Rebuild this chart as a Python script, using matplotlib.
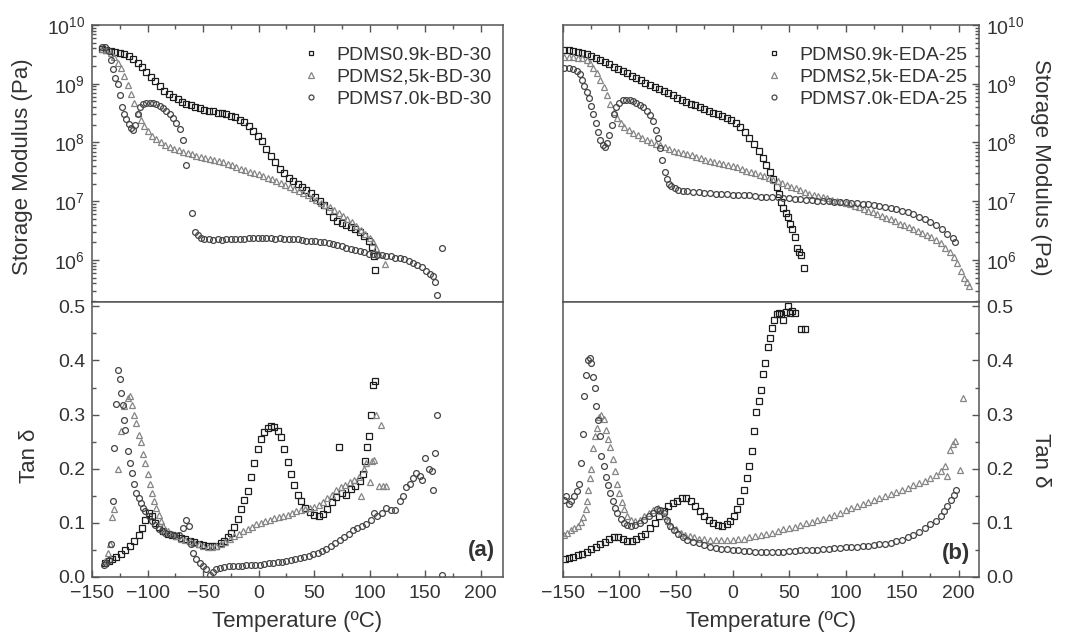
import numpy as np
import matplotlib
matplotlib.use('Agg')
import matplotlib.pyplot as plt
from matplotlib.ticker import (LogLocator, MultipleLocator, NullFormatter,
                               LogFormatterMathtext, FormatStrFormatter)

plt.rcParams['font.family'] = ['Liberation Sans', 'DejaVu Sans']
plt.rcParams['mathtext.fontset'] = 'custom'
plt.rcParams['mathtext.rm'] = 'Liberation Sans'
plt.rcParams['mathtext.it'] = 'Liberation Sans:italic'

# ---------------- panel (a): BD-30 series ----------------
bd_labels = ['PDMS0.9k-BD-30', 'PDMS2,5k-BD-30', 'PDMS7.0k-BD-30']

# storage modulus (Pa)
bd_sq_t = [-141, -137, -133, -129, -125, -121, -117, -113, -109, -105, -101, -97, -93, -89, -85, -81,
           -77, -73, -69, -65, -61, -57, -53, -49, -45, -41, -37, -33, -29, -25, -21, -17, -13, -9, -5, -1,
           3, 7, 11, 15, 19, 23, 27, 31, 35, 39, 43, 47, 51, 55, 59, 63, 67, 71, 75, 79, 83, 87, 91, 95, 99,
           102, 104, 105]
bd_sq_e = [3.89e9, 3.72e9, 3.55e9, 3.47e9, 3.31e9, 3.16e9, 2.95e9, 2.63e9, 2.24e9, 1.91e9, 1.58e9, 1.32e9,
           1.10e9, 9.1e8, 7.6e8, 6.6e8, 5.9e8, 5.4e8, 4.9e8, 4.6e8, 4.3e8, 4.0e8, 3.8e8, 3.6e8, 3.5e8, 3.4e8,
           3.2e8, 3.2e8, 3.0e8, 2.8e8, 2.7e8, 2.45e8, 2.2e8, 1.9e8, 1.6e8, 1.3e8,
           1.05e8, 7.9e7, 6.0e7, 4.6e7, 3.6e7, 3.0e7, 2.5e7, 2.2e7, 1.95e7, 1.74e7, 1.55e7, 1.38e7, 1.2e7,
           1.02e7, 8.5e6, 6.9e6, 5.4e6, 4.6e6, 4.2e6, 3.9e6, 3.6e6, 3.4e6, 3.0e6, 2.6e6, 2.1e6,
           1.66e6, 1.15e6, 6.8e5]

bd_tri_t = [-141, -137, -133, -130, -127, -124, -121, -118, -115, -112, -109, -106, -103, -100,
            -96, -92, -88, -84, -80, -76, -72, -68, -64, -60, -56, -52, -48, -44, -40, -36, -32, -28, -24,
            -20, -16, -12, -8, -4, 0, 4, 8, 12, 16, 20, 24, 28, 32, 36, 40, 44, 48, 52, 56, 60, 64, 68, 72,
            76, 80, 84, 88, 92, 96, 100, 103, 106, 108, 114]
bd_tri_e = [3.98e9, 3.80e9, 3.31e9, 2.82e9, 2.29e9, 1.82e9, 1.35e9, 9.5e8, 6.8e8, 4.7e8, 3.2e8, 2.4e8,
            1.9e8, 1.6e8,
            1.3e8, 1.15e8, 1.0e8, 9.1e7, 8.5e7, 7.9e7, 7.4e7, 6.9e7, 6.6e7, 6.3e7, 6.0e7, 5.75e7, 5.5e7,
            5.25e7, 5.0e7, 4.8e7, 4.6e7, 4.3e7, 4.1e7, 3.8e7, 3.6e7, 3.4e7, 3.2e7, 3.0e7, 2.9e7, 2.7e7,
            2.5e7, 2.35e7, 2.2e7, 2.05e7, 1.9e7, 1.74e7, 1.62e7, 1.48e7, 1.38e7, 1.26e7, 1.15e7, 1.05e7,
            9.5e6, 8.7e6, 7.9e6, 7.1e6, 6.3e6, 5.6e6, 5.0e6, 4.4e6, 3.8e6, 3.3e6, 2.8e6, 2.4e6,
            2.0e6, 1.6e6, 1.26e6, 8.7e5]

bd_cir_t = [-141, -138, -135, -133, -131, -129, -127, -125, -123, -121, -119, -117, -115, -113, -111,
            -109, -107, -104, -101, -98, -95, -92, -89, -86, -83, -80, -77, -74, -71, -68, -65, -60, -57,
            -55, -52,
            -49, -45, -41, -37, -33, -29, -25, -21, -17, -13, -9, -5, -1, 3, 7, 11, 15, 19, 23, 27, 31, 35,
            39, 43, 47, 51, 55, 59, 63, 67, 71, 75, 79, 83, 87, 91, 95, 99, 103, 107, 111, 115, 119, 123,
            127, 131, 135, 139, 143, 147, 151,
            154, 157, 159, 161, 165]
bd_cir_e = [4.27e9, 4.17e9, 3.55e9, 2.51e9, 1.78e9, 1.26e9, 1.0e9, 6.31e8, 3.98e8, 3.02e8, 2.51e8, 2.09e8,
            1.78e8, 1.66e8, 2.0e8, 3.02e8, 3.98e8, 4.57e8, 4.79e8, 4.79e8, 4.68e8, 4.47e8, 4.17e8, 3.80e8,
            3.47e8, 3.02e8, 2.57e8, 2.14e8, 1.70e8, 1.12e8, 4.17e7, 6.31e6, 3.02e6, 2.63e6, 2.40e6,
            2.29e6, 2.24e6, 2.19e6, 2.24e6, 2.19e6, 2.24e6, 2.24e6, 2.29e6, 2.24e6, 2.29e6, 2.34e6, 2.40e6,
            2.34e6, 2.34e6, 2.40e6, 2.34e6, 2.29e6, 2.34e6, 2.29e6, 2.29e6, 2.24e6, 2.24e6, 2.19e6, 2.14e6,
            2.14e6, 2.09e6, 2.04e6, 2.00e6, 1.95e6, 1.86e6, 1.78e6, 1.70e6, 1.62e6, 1.55e6, 1.48e6, 1.41e6,
            1.35e6, 1.29e6, 1.26e6, 1.23e6, 1.20e6, 1.17e6, 1.15e6, 1.10e6, 1.07e6, 1.02e6, 9.55e5, 8.91e5,
            8.32e5, 7.59e5, 6.61e5,
            5.89e5, 5.25e5, 4.17e5, 2.51e5, 1.58e6]

# tan delta
bd_sq_tt = [-138, -135, -132, -128, -124, -120, -116, -112, -108, -105, -102, -99, -96, -93, -90, -86,
            -82, -78, -74, -70, -66, -62, -58, -54, -50, -46, -42, -38, -34, -31, -28, -25, -22, -19, -16,
            -13, -10, -7, -4, -1, 2, 5, 8, 11, 14, 17, 20, 23, 26, 29, 32, 35, 38, 42, 46, 50, 54, 58, 62,
            66, 70, 72, 75, 79, 83, 87, 91, 94, 96, 98, 99, 101, 103, 105]
bd_sq_tan = [0.025, 0.030, 0.033, 0.036, 0.042, 0.050, 0.057, 0.066, 0.077, 0.090, 0.105, 0.118, 0.112,
             0.100, 0.092, 0.085, 0.080, 0.077, 0.075, 0.072, 0.070, 0.067, 0.064, 0.061, 0.059, 0.057,
             0.057, 0.058, 0.062, 0.066, 0.073, 0.082, 0.093, 0.108, 0.125, 0.142, 0.158, 0.185, 0.210,
             0.236, 0.255, 0.268, 0.276, 0.278, 0.277, 0.270, 0.258, 0.237, 0.212, 0.190, 0.170, 0.152,
             0.140, 0.128, 0.120, 0.115, 0.112, 0.116, 0.126, 0.138, 0.148, 0.241, 0.155, 0.152, 0.162,
             0.168, 0.178, 0.190, 0.215, 0.240, 0.260, 0.300, 0.355, 0.362]

bd_tri_tt = [-138, -136, -134, -132, -130, -127, -124, -121, -118, -116, -114, -112, -110, -108, -106,
             -104, -102, -100, -98, -96, -94, -92, -90, -88, -86, -82, -78, -74, -70, -66, -62, -58, -54,
             -50, -46, -42, -38, -34, -30, -26, -22, -18, -14, -10, -6, -2, 2, 6, 10, 14, 18, 22, 26, 30,
             34, 38, 42, 46, 50, 54, 58, 62, 66, 70, 74, 78, 82, 86, 90, 92, 95, 97, 100, 102, 104, 106,
             108, 110, 112, 115]
bd_tri_tan = [0.030, 0.045, 0.060, 0.110, 0.125, 0.200, 0.270, 0.315, 0.330, 0.335, 0.318, 0.300, 0.285,
              0.262, 0.250, 0.228, 0.210, 0.190, 0.172, 0.155, 0.140, 0.128, 0.115, 0.104, 0.095, 0.085,
              0.079, 0.075, 0.071, 0.068, 0.066, 0.063, 0.060, 0.057, 0.055, 0.055, 0.057, 0.060, 0.065,
              0.070, 0.075, 0.080, 0.085, 0.089, 0.093, 0.097, 0.100, 0.103, 0.106, 0.109, 0.111, 0.113,
              0.115, 0.118, 0.121, 0.123, 0.125, 0.127, 0.130, 0.133, 0.138, 0.145, 0.152, 0.160, 0.166,
              0.170, 0.175, 0.180, 0.185, 0.150, 0.200, 0.210, 0.175, 0.215, 0.217, 0.300, 0.168, 0.280,
              0.168, 0.168]

bd_cir_tt = [-139, -137, -135, -133, -131, -130, -128, -127, -125, -124, -122, -121, -120, -118, -116,
             -114, -112, -110, -108, -106, -104, -102, -99, -96, -93, -90, -87, -84, -80, -76, -72, -68,
             -65, -63, -61, -59, -56, -53, -50, -47, -44, -41, -38, -35, -31, -27, -23, -19, -15, -11, -7,
             -3, 1, 5, 9, 13, 17, 21, 25, 29, 33, 37, 41, 45, 49, 53, 57, 61, 65, 69, 73, 77, 81, 85, 89,
             93, 97, 101, 104, 107, 111, 115, 119, 123, 127, 130, 133, 136, 139, 142, 145, 147, 150, 153,
             156, 157, 159, 161, 165]
bd_cir_tan = [0.022, 0.026, 0.032, 0.060, 0.140, 0.238, 0.320, 0.383, 0.366, 0.340, 0.318, 0.290, 0.272,
              0.232, 0.211, 0.192, 0.171, 0.155, 0.145, 0.137, 0.128, 0.121, 0.113, 0.104, 0.096, 0.089,
              0.085, 0.081, 0.079, 0.077, 0.078, 0.090, 0.106, 0.095, 0.060, 0.044, 0.034, 0.026, 0.020,
              0.015, 0.004, 0.010, 0.014, 0.016, 0.018, 0.020, 0.021, 0.021, 0.021, 0.022, 0.022, 0.023,
              0.023, 0.024, 0.025, 0.026, 0.027, 0.028, 0.029, 0.031, 0.033, 0.035, 0.037, 0.039, 0.042,
              0.045, 0.048, 0.052, 0.057, 0.062, 0.068, 0.074, 0.080, 0.086, 0.090, 0.094, 0.098, 0.106,
              0.118, 0.112, 0.118, 0.127, 0.124, 0.124, 0.140, 0.150, 0.166, 0.172, 0.182, 0.192, 0.186,
              0.180, 0.220, 0.200, 0.195, 0.161, 0.229, 0.300, 0.003]

# ---------------- panel (b): EDA-25 series ----------------
eda_labels = ['PDMS0.9k-EDA-25', 'PDMS2,5k-EDA-25', 'PDMS7.0k-EDA-25']

eda_sq_t = [-149, -145, -141, -137, -133, -129, -125, -121, -117, -113, -109, -105, -101, -97, -93, -89,
            -85, -81, -77, -73, -69, -65, -61, -57, -53, -49, -45, -41, -37, -33, -29, -25, -21, -17, -13,
            -9, -5, -1, 3, 7, 11, 15, 19, 23, 27, 30, 33, 36, 39, 41, 43, 45, 47, 49, 51, 53, 55, 57, 59,
            61, 63]
eda_sq_e = [3.72e9, 3.72e9, 3.63e9, 3.47e9, 3.31e9, 3.16e9, 2.95e9, 2.75e9, 2.57e9, 2.34e9, 2.14e9,
            1.95e9, 1.78e9, 1.66e9, 1.51e9, 1.38e9, 1.26e9, 1.15e9, 1.05e9, 9.55e8, 8.91e8, 8.13e8, 7.59e8,
            6.92e8, 6.31e8, 5.75e8, 5.25e8, 4.90e8, 4.57e8, 4.27e8, 3.98e8, 3.72e8, 3.47e8, 3.24e8, 3.02e8,
            2.82e8, 2.57e8, 2.40e8, 2.14e8, 1.82e8, 1.48e8, 1.17e8, 9.33e7, 7.24e7, 5.37e7, 4.17e7, 3.16e7,
            2.40e7, 1.78e7, 1.32e7, 9.55e6, 7.59e6, 6.31e6, 5.37e6, 4.17e6, 3.31e6, 2.51e6, 1.58e6, 1.35e6,
            1.20e6, 7.24e5]

eda_tri_t = [-149, -145, -141, -137, -133, -129, -126, -123, -120, -117, -114, -111, -108, -105, -102,
             -99, -96, -92, -88, -84, -80, -76, -72, -68, -64, -60, -56, -52, -48, -44, -40, -36, -32, -28,
             -24, -20, -16, -12, -8, -4, 0, 4, 8, 12, 16, 20, 24, 28, 32, 36, 40, 44, 48, 52, 56, 60, 64,
             68, 72, 76, 80, 84, 88, 92, 96, 100, 104, 108, 112, 116, 120, 124, 128, 132, 136, 140, 144,
             148, 152, 156, 160, 164, 168, 172, 176, 180, 184, 188, 192, 196, 199, 202, 205, 207, 209]
eda_tri_e = [2.88e9, 2.88e9, 2.82e9, 2.75e9, 2.69e9, 2.51e9, 2.24e9, 1.86e9, 1.55e9, 1.17e9, 8.71e8,
             6.31e8, 4.47e8, 3.31e8, 2.63e8, 2.14e8,
             1.86e8, 1.62e8, 1.45e8, 1.32e8, 1.20e8, 1.10e8, 1.02e8, 9.55e7, 8.91e7, 8.32e7, 7.76e7,
             7.24e7, 6.92e7, 6.61e7, 6.31e7, 6.03e7, 5.62e7, 5.37e7, 5.01e7, 4.79e7, 4.57e7, 4.47e7,
             4.27e7, 4.07e7, 3.98e7, 3.80e7, 3.55e7, 3.31e7, 3.16e7, 3.02e7, 2.82e7, 2.69e7, 2.51e7,
             2.34e7, 2.19e7, 2.04e7, 1.91e7, 1.78e7, 1.66e7, 1.55e7, 1.45e7, 1.35e7, 1.29e7, 1.23e7,
             1.17e7, 1.12e7, 1.07e7, 1.02e7, 9.77e6, 9.33e6, 8.91e6, 8.32e6, 7.94e6, 7.41e6, 6.92e6,
             6.46e6, 6.03e6, 5.62e6, 5.25e6, 4.90e6, 4.57e6, 4.17e6, 3.89e6, 3.63e6, 3.39e6, 3.16e6,
             2.88e6, 2.69e6, 2.45e6, 2.19e6, 1.91e6,
             1.62e6, 1.35e6, 1.12e6, 8.91e5, 6.61e5, 5.01e5, 4.17e5, 3.63e5]

eda_cir_t = [-149, -145, -141, -138, -135, -133, -131, -129, -127, -125, -123, -121, -119, -117, -115,
             -113, -111, -109, -107, -105, -103, -100, -97, -94, -91, -88, -85, -82, -79, -76, -73, -70,
             -68, -66, -64, -62, -60, -58, -56, -54, -51, -48, -44, -40,
             -35, -30, -25, -20, -15, -10, -5, 0, 5, 10, 15, 20, 25, 30, 35, 40, 45, 50, 55, 60, 65, 70,
             75, 80, 85, 90, 95, 100, 105, 110, 115, 120, 125, 130, 135, 140, 145, 150, 155, 160, 165,
             170, 175, 180, 185, 190, 195, 197]
eda_cir_e = [1.86e9, 1.86e9, 1.78e9, 1.66e9, 1.45e9, 1.17e9, 9.12e8, 7.24e8, 5.62e8, 4.17e8, 3.02e8,
             2.14e8, 1.48e8, 1.10e8, 8.91e7, 8.51e7, 9.77e7, 1.35e8, 2.0e8, 3.02e8, 3.98e8, 4.79e8, 5.25e8,
             5.37e8, 5.25e8, 5.01e8, 4.68e8, 4.37e8, 3.98e8, 3.47e8, 2.95e8, 2.34e8, 1.66e8, 1.20e8,
             7.94e7, 5.01e7, 3.16e7, 2.40e7, 2.0e7, 1.82e7, 1.66e7, 1.58e7, 1.51e7, 1.48e7,
             1.45e7, 1.41e7, 1.38e7, 1.38e7, 1.35e7, 1.32e7, 1.32e7, 1.29e7, 1.29e7, 1.26e7, 1.26e7,
             1.23e7, 1.20e7, 1.20e7, 1.17e7, 1.17e7, 1.15e7, 1.12e7, 1.10e7, 1.10e7, 1.07e7, 1.05e7,
             1.02e7, 1.02e7, 1.0e7, 9.77e6, 9.77e6, 9.55e6, 9.33e6, 9.33e6, 9.12e6, 8.91e6, 8.51e6,
             8.32e6, 7.94e6, 7.59e6, 7.24e6, 6.92e6, 6.46e6, 6.03e6, 5.50e6, 5.01e6, 4.47e6, 3.89e6,
             3.39e6, 2.82e6, 2.34e6, 2.04e6]

eda_sq_tt = [-148, -145, -141, -137, -133, -129, -125, -121, -117, -113, -109, -105, -101, -97, -93, -89,
             -85, -81, -77, -73, -69, -65, -61, -57, -53, -49, -45, -41, -37, -33, -29, -25, -21, -17, -13,
             -9, -5, -2, 1, 4, 7, 10, 13, 15, 17, 19, 21, 23, 25, 27, 29, 31, 33, 35, 37, 39, 41, 43, 45,
             47, 49, 51, 53, 55, 61, 64]
eda_sq_tan = [0.034, 0.035, 0.037, 0.040, 0.043, 0.047, 0.052, 0.056, 0.060, 0.065, 0.070, 0.074, 0.074,
              0.070, 0.066, 0.066, 0.070, 0.075, 0.080, 0.090, 0.100, 0.112, 0.122, 0.131, 0.137, 0.141,
              0.145, 0.145, 0.140, 0.132, 0.122, 0.113, 0.106, 0.100, 0.096, 0.095, 0.098, 0.103, 0.112,
              0.125, 0.140, 0.160, 0.183, 0.205, 0.232, 0.270, 0.305, 0.325, 0.345, 0.375, 0.395, 0.425,
              0.442, 0.460, 0.475, 0.485, 0.488, 0.485, 0.475, 0.490, 0.500, 0.488, 0.492, 0.488, 0.458,
              0.458]

eda_tri_tt = [-149, -146, -143, -140, -137, -134, -132, -130, -129, -128, -126, -125, -123.5, -122, -120,
              -118, -116, -114, -112, -110, -108, -106, -104, -102, -100, -98, -96, -93, -90, -86, -82,
              -78, -74, -70, -66, -63, -60, -57, -54, -50, -46, -42, -38, -34, -30, -25, -20, -15, -10, -5,
              0, 5, 10, 15, 20, 25, 30, 35, 40, 45, 50, 55, 60, 65, 70, 75, 80, 85, 90, 95, 100, 105, 110,
              115, 120, 125, 130, 135, 140, 145, 150, 155, 160, 165, 170, 175, 180, 184, 188, 190, 192, 195,
              197, 201, 204]
eda_tri_tan = [0.078, 0.082, 0.086, 0.090, 0.095, 0.102, 0.110, 0.125, 0.140, 0.160, 0.182, 0.200, 0.238,
               0.260, 0.275, 0.295, 0.300, 0.292, 0.272, 0.255, 0.240, 0.218, 0.195, 0.172, 0.155, 0.138,
               0.125, 0.113, 0.106, 0.104, 0.106, 0.112, 0.118, 0.124, 0.127, 0.122, 0.112, 0.103, 0.095,
               0.088, 0.082, 0.078, 0.075, 0.073, 0.071, 0.070, 0.069, 0.068, 0.068, 0.068, 0.069, 0.070,
               0.071, 0.073, 0.075, 0.077, 0.079, 0.082, 0.085, 0.088, 0.090, 0.093, 0.096, 0.099, 0.102,
               0.105, 0.108, 0.111, 0.115, 0.119, 0.123, 0.127, 0.131, 0.135, 0.139, 0.143, 0.146, 0.150,
               0.154, 0.157, 0.161, 0.165, 0.169, 0.173, 0.177, 0.182, 0.188, 0.195, 0.205, 0.186, 0.235,
               0.245, 0.252, 0.198, 0.330]

eda_cir_tt = [-149, -147, -145, -143, -140, -138, -136, -134, -132.5, -131, -129.5, -128, -126.5, -125,
              -123.5, -122, -120.5, -119, -117.5, -116, -114, -112, -110, -108, -106, -104, -102, -99, -96,
              -93, -90, -86, -82, -78, -74, -70, -67, -64, -61, -58, -55, -52, -48, -44, -40, -35, -30,
              -25, -20, -15, -10, -5, 0, 5, 10, 15, 20, 25, 30, 35, 40, 45, 50, 55, 60, 65, 70, 75, 80,
              85, 90, 95, 100, 105, 110, 115, 120, 125, 130, 135, 140, 145, 150, 155, 160, 165, 170, 175,
              180, 184, 187, 190, 193, 196, 198]
eda_cir_tan = [0.142, 0.149, 0.135, 0.140, 0.150, 0.158, 0.172, 0.211, 0.265, 0.334, 0.374, 0.400, 0.405,
               0.395, 0.370, 0.349, 0.315, 0.290, 0.260, 0.223, 0.205, 0.185, 0.170, 0.155, 0.140, 0.128,
               0.118, 0.107, 0.100, 0.096, 0.094, 0.096, 0.100, 0.106, 0.112, 0.119, 0.125, 0.124, 0.118,
               0.106, 0.095, 0.086, 0.079, 0.073, 0.069, 0.065, 0.062, 0.059, 0.056, 0.054, 0.052, 0.051,
               0.050, 0.049, 0.048, 0.048, 0.047, 0.047, 0.047, 0.047, 0.047, 0.047, 0.048, 0.048, 0.049,
               0.049, 0.050, 0.050, 0.051, 0.052, 0.053, 0.054, 0.055, 0.055, 0.056, 0.057, 0.058, 0.059,
               0.060, 0.061, 0.063, 0.066, 0.069, 0.073, 0.078, 0.084, 0.090, 0.097, 0.104, 0.112, 0.122,
               0.131, 0.143, 0.152, 0.161]

# marker styles: square, triangle, circle
styles = [dict(marker='s', mec='#1c1c1c', ms=3.8),
          dict(marker='^', mec='#858585', ms=4.3),
          dict(marker='o', mec='#454545', ms=4.2)]

text_col = '#333333'
spine_col = '#555555'


def style_axes(ax, top_part, right_side, xmax):
    for s in ax.spines.values():
        s.set_color(spine_col)
        s.set_linewidth(1.1)
    ax.set_xlim(-150, xmax)
    ax.xaxis.set_major_locator(MultipleLocator(50))
    ax.xaxis.set_minor_locator(MultipleLocator(25))
    ax.tick_params(which='both', direction='in', colors=spine_col, labelcolor=text_col,
                   labelsize=14, width=1)
    ax.tick_params(which='major', length=5)
    ax.tick_params(which='minor', length=3)
    if top_part:
        ax.tick_params(axis='x', which='both', top=True, bottom=False, labelbottom=False)
    else:
        ax.tick_params(axis='x', which='both', top=False, bottom=True, pad=6)
    if right_side:
        ax.tick_params(axis='y', which='both', left=False, right=True,
                       labelleft=False, labelright=True, pad=5)
    else:
        ax.tick_params(axis='y', which='both', left=True, right=False, pad=5)


fig = plt.figure(figsize=(10.65, 6.36), dpi=100)
ax_a_top = fig.add_axes([0.0864, 0.5252, 0.3859, 0.4355])
ax_a_bot = fig.add_axes([0.0864, 0.0928, 0.3859, 0.4324])
ax_b_top = fig.add_axes([0.5286, 0.5252, 0.3906, 0.4355])
ax_b_bot = fig.add_axes([0.5286, 0.0928, 0.3906, 0.4324])

panels = [
    (ax_a_top, ax_a_bot, bd_labels, 220, False, '(a)',
     [(bd_sq_t, bd_sq_e), (bd_tri_t, bd_tri_e), (bd_cir_t, bd_cir_e)],
     [(bd_sq_tt, bd_sq_tan), (bd_tri_tt, bd_tri_tan), (bd_cir_tt, bd_cir_tan)]),
    (ax_b_top, ax_b_bot, eda_labels, 218, True, '(b)',
     [(eda_sq_t, eda_sq_e), (eda_tri_t, eda_tri_e), (eda_cir_t, eda_cir_e)],
     [(eda_sq_tt, eda_sq_tan), (eda_tri_tt, eda_tri_tan), (eda_cir_tt, eda_cir_tan)]),
]

for ax_top, ax_bot, labels, xmax, right, tag, storage, tand in panels:
    for (t, e), st, lab in zip(storage, styles, labels):
        ax_top.plot(t, e, ls='none', mfc='none', mew=0.9, label=lab, **st)
    for (t, d), st in zip(tand, styles):
        ax_bot.plot(t, d, ls='none', mfc='none', mew=0.9, **st)

    ax_top.set_yscale('log')
    ax_top.set_ylim(1.93e5, 1e10)
    ax_top.yaxis.set_major_locator(LogLocator(base=10, numticks=12))
    ax_top.yaxis.set_minor_locator(LogLocator(base=10, subs=np.arange(2, 10), numticks=12))
    ax_top.yaxis.set_major_formatter(LogFormatterMathtext())
    ax_top.yaxis.set_minor_formatter(NullFormatter())
    style_axes(ax_top, True, right, xmax)

    ax_bot.set_ylim(0, 0.508)
    ax_bot.yaxis.set_major_locator(MultipleLocator(0.1))
    ax_bot.yaxis.set_minor_locator(MultipleLocator(0.05))
    ax_bot.yaxis.set_major_formatter(FormatStrFormatter('%.1f'))
    style_axes(ax_bot, False, right, xmax)

    ax_bot.set_xlabel('Temperature (ºC)', fontsize=16, color=text_col)
    ax_bot.xaxis.set_label_coords(0.5, -0.125)

    leg = ax_top.legend(loc='upper right', bbox_to_anchor=(1.0, 0.965), frameon=False, fontsize=14,
                        handlelength=0.8, handletextpad=0.9, labelspacing=0.22, borderaxespad=0.2,
                        markerscale=0.85)
    for txt in leg.get_texts():
        txt.set_color(text_col)

    if right:
        ax_top.yaxis.set_label_position('right')
        ax_bot.yaxis.set_label_position('right')
        ax_top.set_ylabel('Storage Modulus (Pa)', fontsize=16, color=text_col, rotation=-90,
                          va='center')
        ax_bot.set_ylabel('Tan δ', fontsize=16, color=text_col, rotation=-90, va='center')
        ax_top.yaxis.set_label_coords(1.147, 0.486)
        ax_bot.yaxis.set_label_coords(1.147, 0.425)
        ax_bot.text(0.978, 0.087, tag, transform=ax_bot.transAxes, ha='right', va='center',
                    fontsize=16, fontweight='bold', color=text_col)
    else:
        ax_top.set_ylabel('Storage Modulus (Pa)', fontsize=16, color=text_col, va='center')
        ax_bot.set_ylabel('Tan δ', fontsize=16, color=text_col, va='center')
        ax_top.yaxis.set_label_coords(-0.170, 0.49)
        ax_bot.yaxis.set_label_coords(-0.151, 0.44)
        ax_bot.text(0.98, 0.098, tag, transform=ax_bot.transAxes, ha='right', va='center',
                    fontsize=16, fontweight='bold', color=text_col)

fig.savefig('out.png', dpi=100)
